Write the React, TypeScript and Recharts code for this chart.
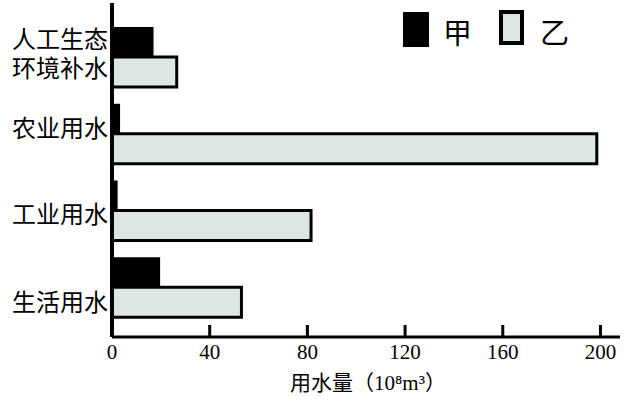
import React from 'react';
import { BarChart, Bar, XAxis, YAxis, Customized } from 'recharts';

const categories = ['人工生态\n环境补水', '农业用水', '工业用水', '生活用水'];
const jiaValues = [17, 3.3, 2.3, 19.7];
const yiValues = [26.5, 198.5, 81.5, 53];
const xTicks = [0, 40, 80, 120, 160, 200];
const seriesNames = ['甲', '乙'];

const data = categories.map((name, i) => ({ name, jia: jiaValues[i], yi: yiValues[i] }));

const CJK = "'Noto Sans CJK SC', 'Noto Sans', sans-serif";
const SERIF = "'Liberation Serif', 'DejaVu Serif', serif";
const YI_FILL = '#dce7e2';

// vertical offsets of the category labels relative to the band centre
const LABEL_DY = [-18.5, -6.5, 3, 14.5];
const LINE_GAP = 29.5;

function YTick(props: any) {
  const { x, y, payload, index } = props;
  const lines = String(payload.value).split('\n');
  const dy = LABEL_DY[index] ?? 0;
  return (
    <text x={x} y={y} textAnchor="end" fontSize={24} fontFamily={CJK} fill="#000">
      {lines.map((l: string, i: number) => (
        <tspan key={i} x={x} y={y + dy + i * LINE_GAP + 9}>
          {l}
        </tspan>
      ))}
    </text>
  );
}

function XTick(props: any) {
  const { x, y, payload } = props;
  return (
    <g>
      <line x1={x} x2={x} y1={y} y2={y - 12} stroke="#000" strokeWidth={3} />
      <text x={x} y={y + 22} textAnchor="middle" fontSize={21} fontFamily={SERIF} fill="#000">
        {payload.value}
      </text>
    </g>
  );
}

function XLabel(props: any) {
  const vb = props.viewBox || { x: 112, y: 337, width: 508 };
  const cx = vb.x + vb.width / 2 + 2;
  return (
    <text x={cx} y={vb.y + 53} textAnchor="middle" fontSize={21} fontFamily={CJK} fill="#000">
      <tspan>用水量（</tspan>
      <tspan fontFamily={SERIF}>10⁸m³</tspan>
      <tspan>）</tspan>
    </text>
  );
}

function LegendBox() {
  return (
    <g>
      {seriesNames.map((n, i) => {
        const x0 = 403 + i * 97;
        return (
          <g key={n}>
            {i === 0 ? (
              <rect x={x0} y={12} width={26} height={35} fill="#000" />
            ) : (
              <rect x={x0 + 1} y={12} width={21} height={31} fill={YI_FILL} stroke="#000" strokeWidth={4} />
            )}
            <text x={x0 + 40} y={44} fontSize={29} fontFamily={CJK} fill="#000">
              {n}
            </text>
          </g>
        );
      })}
    </g>
  );
}

export default function App() {
  return (
    <div style={{ position: 'absolute', left: 0, top: 0, width: 640, height: 401, background: '#fff' }}>
      <BarChart
        width={640}
        height={401}
        data={data}
        layout="vertical"
        margin={{ top: 3, right: 20, bottom: 0, left: 0 }}
        barSize={30}
        barGap={0}
      >
        <XAxis
          type="number"
          domain={[0, 208]}
          ticks={xTicks}
          interval={0}
          allowDataOverflow
          axisLine={{ stroke: '#000', strokeWidth: 3 }}
          tickLine={false}
          tickSize={0}
          tickMargin={0}
          height={64}
          tick={<XTick />}
          label={<XLabel />}
        />
        <YAxis
          type="category"
          dataKey="name"
          width={112}
          interval={0}
          axisLine={{ stroke: '#000', strokeWidth: 4 }}
          tickLine={false}
          tickSize={0}
          tickMargin={4}
          padding={{ top: 16, bottom: 11 }}
          tick={<YTick />}
        />
        <Bar dataKey="jia" name={seriesNames[0]} fill="#000" isAnimationActive={false} />
        <Bar dataKey="yi" name={seriesNames[1]} fill={YI_FILL} stroke="#000" strokeWidth={3} isAnimationActive={false} />
        <Customized component={<LegendBox />} />
      </BarChart>
    </div>
  );
}
